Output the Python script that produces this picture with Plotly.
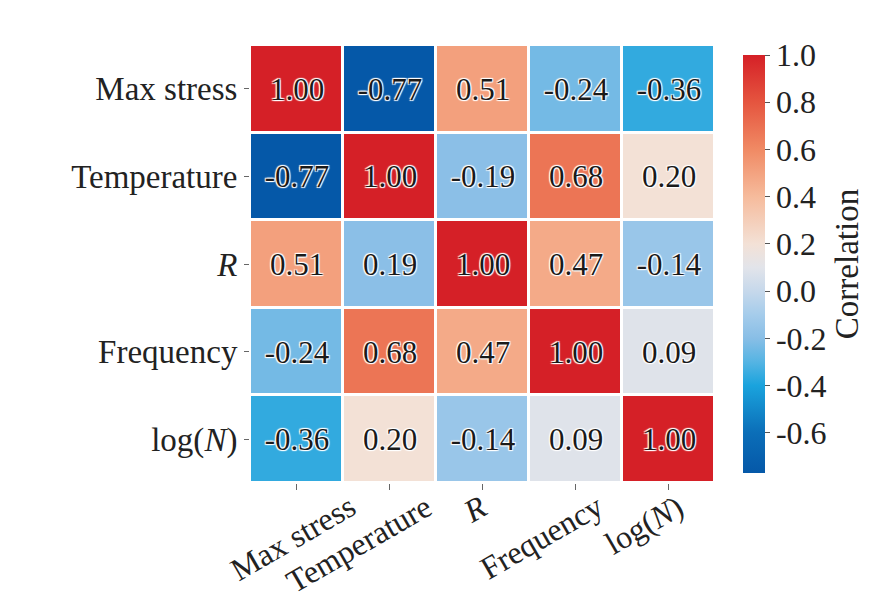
import plotly.graph_objects as go

labels = ["Max stress", "Temperature", "<i>R</i>", "Frequency", "log(<i>N</i>)"]
corr = [
    [1.00, -0.77, 0.51, -0.24, -0.36],
    [-0.77, 1.00, -0.19, 0.68, 0.20],
    [0.51, -0.19, 1.00, 0.47, -0.14],
    [-0.24, 0.68, 0.47, 1.00, 0.09],
    [-0.36, 0.20, -0.14, 0.09, 1.00],
]
cell_text = [
    ["1.00", "-0.77", "0.51", "-0.24", "-0.36"],
    ["-0.77", "1.00", "-0.19", "0.68", "0.20"],
    ["0.51", "0.19", "1.00", "0.47", "-0.14"],
    ["-0.24", "0.68", "0.47", "1.00", "0.09"],
    ["-0.36", "0.20", "-0.14", "0.09", "1.00"],
]
cbar_ticks = [-0.6, -0.4, -0.2, 0.0, 0.2, 0.4, 0.6, 0.8, 1.0]
zmin, zmax = -0.77, 1.0

stops = [(-0.77, "#0558A8"), (-0.6, "#0B6EB8"), (-0.4, "#1AA3DD"), (-0.3, "#55B4E3"),
         (-0.2, "#88BEE6"), (-0.1, "#A5CCEB"), (0.0, "#C6D8EB"), (0.1, "#E2E4EA"),
         (0.2, "#F3E1D6"), (0.4, "#F6BB9C"), (0.6, "#F08A64"), (0.8, "#E5553F"),
         (1.0, "#D52027")]
colorscale = [[(v - zmin) / (zmax - zmin), c] for v, c in stops]

serif = "Liberation Serif"
fig = go.Figure(go.Heatmap(
    z=corr, x=labels, y=labels, text=cell_text, texttemplate="%{text}",
    textfont=dict(family=serif, size=31, color="#1a1a1a",
                  shadow="1px 1px 1px white, -1px -1px 1px white, 1px -1px 1px white, -1px 1px 1px white"),
    colorscale=colorscale, zmin=zmin, zmax=zmax, xgap=3, ygap=3,
    colorbar=dict(
        title=dict(text="Correlation", side="right", font=dict(family=serif, size=33, color="#222")),
        tickvals=cbar_ticks, ticktext=[f"{t:.1f}" for t in cbar_ticks],
        tickfont=dict(family=serif, size=32, color="#222"),
        ticks="outside", ticklen=5, tickcolor="#555", outlinewidth=0,
        thickness=22, len=1, lenmode="fraction", y=0.5, yanchor="middle",
        x=1.06, xanchor="left", xpad=0,
    ),
    hoverinfo="skip",
))

xlabel_shift = [-4, -31, -8, -34, -25]
for lab, dx in zip(labels, xlabel_shift):
    fig.add_annotation(x=lab, y=-0.005, xref="x", yref="paper", text=lab, showarrow=False,
                       textangle=-30, xanchor="center", yanchor="top", xshift=dx,
                       font=dict(family=serif, size=32, color="#222"))

fig.update_layout(
    width=887, height=591, margin=dict(l=242, r=180, t=37, b=116, autoexpand=False),
    paper_bgcolor="white", plot_bgcolor="white",
    xaxis=dict(range=[-0.5, len(labels) - 0.5], showticklabels=False, ticks="outside", ticklen=6,
               tickcolor="#666", showgrid=False, zeroline=False, automargin=False),
    yaxis=dict(range=[len(labels) - 0.5, -0.5], ticks="outside", ticklen=5, tickcolor="#666", showgrid=False,
               zeroline=False, automargin=False, tickfont=dict(family=serif, size=33, color="#222")),
)
fig.write_html("out.html")
